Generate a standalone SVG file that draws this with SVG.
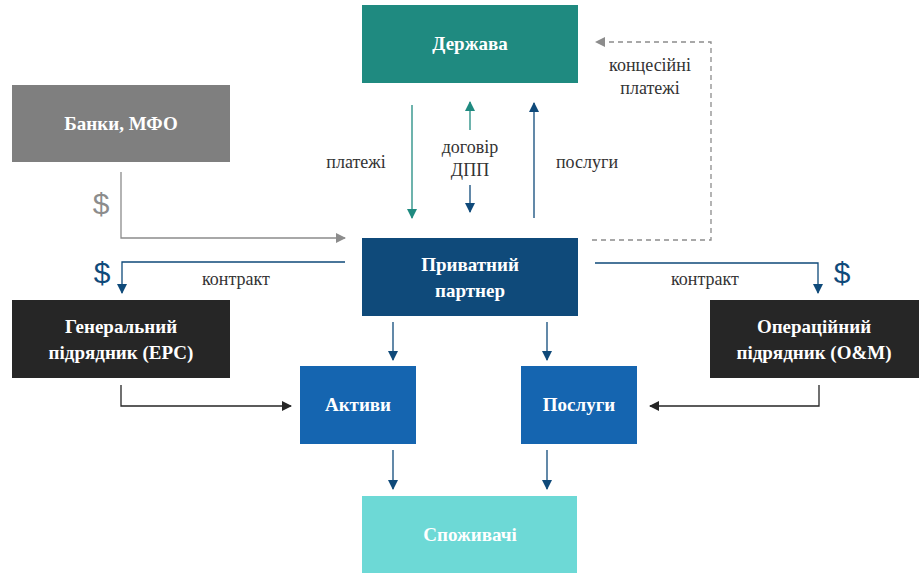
<svg xmlns="http://www.w3.org/2000/svg" width="919" height="573" viewBox="0 0 919 573">
<style>
.nt{font-family:'Liberation Serif','Times New Roman','DejaVu Serif',serif;font-weight:bold;font-size:19px;fill:#fff;text-anchor:middle}
.lb{font-family:'Liberation Serif','Times New Roman','DejaVu Serif',serif;font-size:18px;fill:#333;text-anchor:middle}
.dol{font-family:'Liberation Sans',Arial,sans-serif;font-size:30px;text-anchor:middle}
.ln{fill:none;stroke-width:1.3}
</style>
<defs>
<marker id="aT" viewBox="0 0 10 10" refX="9" refY="5" markerWidth="10" markerHeight="10" markerUnits="userSpaceOnUse" orient="auto"><path d="M0,0L10,5L0,10z" fill="#1f8a80"/></marker>
<marker id="aN" viewBox="0 0 10 10" refX="9" refY="5" markerWidth="10" markerHeight="10" markerUnits="userSpaceOnUse" orient="auto"><path d="M0,0L10,5L0,10z" fill="#0f4a7a"/></marker>
<marker id="aG" viewBox="0 0 10 10" refX="9" refY="5" markerWidth="10" markerHeight="10" markerUnits="userSpaceOnUse" orient="auto"><path d="M0,0L10,5L0,10z" fill="#8c8c8c"/></marker>
<marker id="aK" viewBox="0 0 10 10" refX="9" refY="5" markerWidth="10" markerHeight="10" markerUnits="userSpaceOnUse" orient="auto"><path d="M0,0L10,5L0,10z" fill="#262626"/></marker>
</defs>
<rect width="919" height="573" fill="#fff"/>
<g id="connectors">
<path class="ln" d="M412,105V218" stroke="#1f8a80" marker-end="url(#aT)"/>
<path class="ln" d="M470,130V102" stroke="#1f8a80" marker-end="url(#aT)"/>
<path class="ln" d="M470,185V212" stroke="#0f4a7a" marker-end="url(#aN)"/>
<path class="ln" d="M534,218V103" stroke="#0f4a7a" marker-end="url(#aN)"/>
<path class="ln" d="M592,240H711V42H596" stroke="#8c8c8c" stroke-dasharray="5,4" marker-end="url(#aG)"/>
<path class="ln" d="M121,172V238H345" stroke="#8c8c8c" marker-end="url(#aG)"/>
<path class="ln" d="M345,262H122V293" stroke="#0f4a7a" marker-end="url(#aN)"/>
<path class="ln" d="M595,263H818V293" stroke="#0f4a7a" marker-end="url(#aN)"/>
<path class="ln" d="M393,322V360" stroke="#0f4a7a" marker-end="url(#aN)"/>
<path class="ln" d="M547,322V360" stroke="#0f4a7a" marker-end="url(#aN)"/>
<path class="ln" d="M121,385V406H291" stroke="#262626" marker-end="url(#aK)"/>
<path class="ln" d="M819,385V406H650" stroke="#262626" marker-end="url(#aK)"/>
<path class="ln" d="M393,450V489" stroke="#0f4a7a" marker-end="url(#aN)"/>
<path class="ln" d="M547,450V489" stroke="#0f4a7a" marker-end="url(#aN)"/>
<text class="lb" x="356" y="168">платежі</text>
<text class="lb" x="470" y="153">договір</text>
<text class="lb" x="470" y="176">ДПП</text>
<text class="lb" x="587" y="168">послуги</text>
<text class="lb" x="650" y="71">концесійні</text>
<text class="lb" x="650" y="94">платежі</text>
<text class="lb" x="236" y="285">контракт</text>
<text class="lb" x="705" y="285">контракт</text>
<text class="dol" x="101" y="214" fill="#8c8c8c">$</text>
<text class="dol" x="102" y="283" fill="#0f4a7a">$</text>
<text class="dol" x="842" y="283" fill="#0f4a7a">$</text>
</g>
<g id="derzhava"><rect x="362" y="5" width="216" height="78" fill="#1f8a80"/><text class="nt" x="470" y="50">Держава</text></g>
<g id="banky"><rect x="12" y="85" width="218" height="77" fill="#7f7f7f"/><text class="nt" x="121" y="130">Банки, МФО</text></g>
<g id="partner"><rect x="362" y="238" width="216" height="78" fill="#0f4a7a"/><text class="nt" x="470" y="271">Приватний</text><text class="nt" x="470" y="297">партнер</text></g>
<g id="epc"><rect x="12" y="300" width="218" height="78" fill="#262626"/><text class="nt" x="121" y="333">Генеральний</text><text class="nt" x="121" y="359">підрядник (ЕРС)</text></g>
<g id="om"><rect x="710" y="300" width="209" height="78" fill="#262626"/><text class="nt" x="814" y="333">Операційний</text><text class="nt" x="814" y="359">підрядник (O&amp;M)</text></g>
<g id="aktyvy"><rect x="300" y="366" width="116" height="78" fill="#1565b0"/><text class="nt" x="358" y="411">Активи</text></g>
<g id="posluhy"><rect x="521" y="366" width="116" height="78" fill="#1565b0"/><text class="nt" x="579" y="411">Послуги</text></g>
<g id="spozhyvachi"><rect x="362" y="496" width="215" height="77" fill="#6dd9d6"/><text class="nt" x="470" y="541">Споживачі</text></g>
</svg>
